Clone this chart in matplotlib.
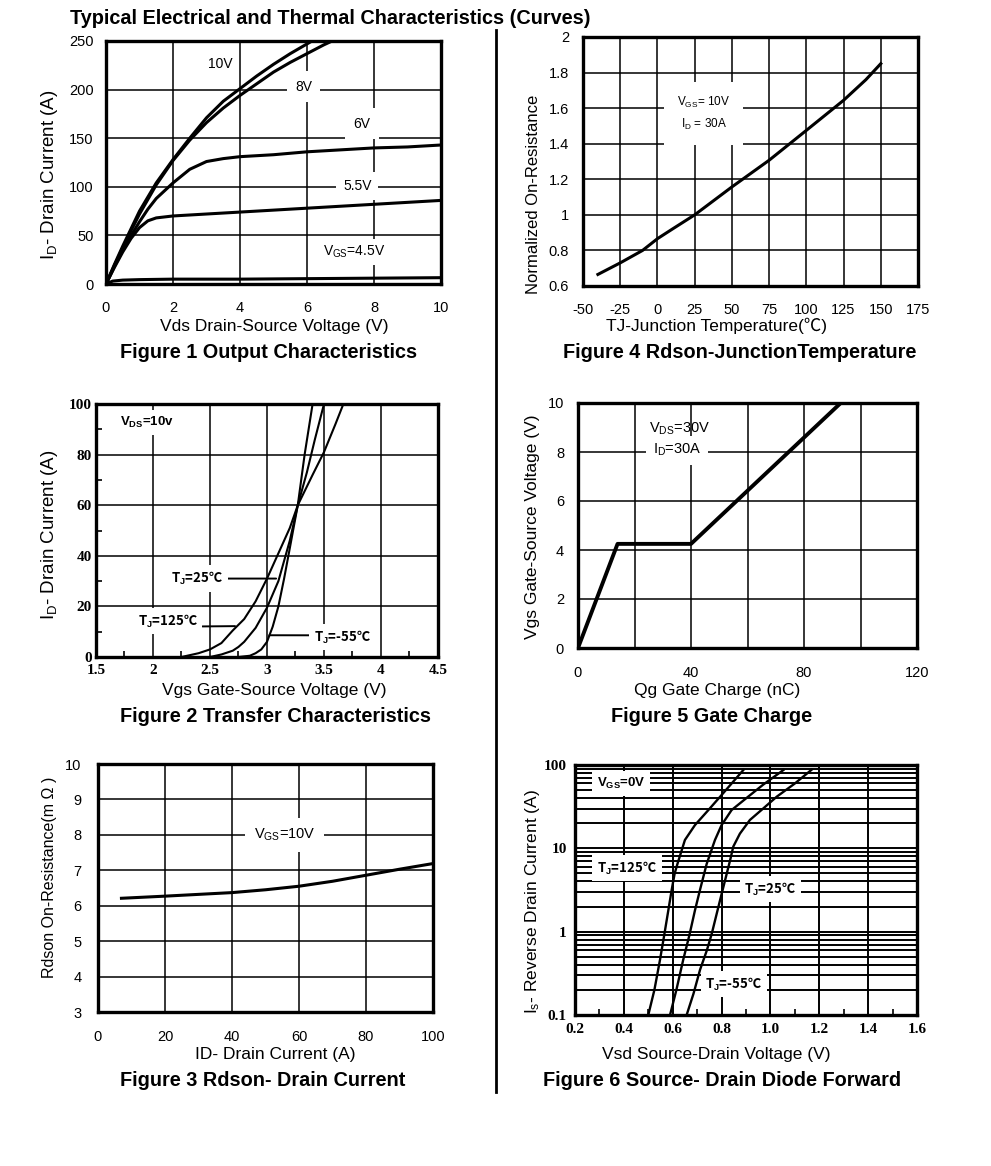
import matplotlib
matplotlib.use('Agg')
import matplotlib.pyplot as plt
from matplotlib.ticker import MultipleLocator, FixedLocator, NullFormatter

plt.rcParams['font.family'] = ['Liberation Sans', 'DejaVu Sans']
plt.rcParams['mathtext.fontset'] = 'custom'
plt.rcParams['mathtext.rm'] = 'Liberation Sans'
plt.rcParams['mathtext.bf'] = 'Liberation Sans:bold'
plt.rcParams['mathtext.it'] = 'Liberation Sans:italic'
plt.rcParams['axes.unicode_minus'] = False

W, H = 991, 1166

# ---- Figure 1: output characteristics (Vds, Id) ----
vds_10v = [0, 0.25, 0.5, 0.75, 1.0, 1.5, 2.0, 2.5, 3.0, 3.5, 4.0, 4.5, 5.0, 5.5, 6.0, 6.15]
id_10v = [0, 20, 39, 57, 75, 104, 128, 150, 171, 188, 201, 214, 226, 237, 247, 250]
vds_8v = [0, 0.25, 0.5, 0.75, 1.0, 1.5, 2.0, 2.5, 3.0, 3.5, 4.0, 4.5, 5.0, 5.5, 6.0, 6.5, 6.75]
id_8v = [0, 19, 37, 55, 72, 102, 127, 148, 166, 181, 194, 206, 218, 228, 237, 246, 250]
vds_6v = [0, 0.25, 0.5, 0.75, 1.0, 1.25, 1.5, 2.0, 2.5, 3.0, 3.5, 4, 5, 6, 7, 8, 9, 10]
id_6v = [0, 18, 35, 50, 64, 77, 88, 104, 118, 126, 129, 131, 133, 136, 138, 140, 141, 143]
vds_55v = [0, 0.25, 0.5, 0.75, 1.0, 1.25, 1.5, 2, 3, 4, 5, 6, 7, 8, 9, 10]
id_55v = [0, 17, 33, 47, 58, 65, 68, 70, 72, 74, 76, 78, 80, 82, 84, 86]
vds_45v = [0, 0.2, 0.5, 1, 2, 4, 6, 8, 10]
id_45v = [0, 3, 4, 4.5, 5, 5, 5.5, 6, 6.5]

# ---- Figure 2: transfer characteristics (Vgs, Id) ----
vgs_125 = [2.25, 2.4, 2.5, 2.6, 2.7, 2.8, 2.9, 3.0, 3.1, 3.2, 3.27, 3.4, 3.5, 3.6, 3.67]
id_125 = [0, 1.5, 3, 5.5, 10.5, 15, 22, 31, 41, 51, 60, 72, 81, 92, 100]
vgs_25 = [2.5, 2.6, 2.7, 2.75, 2.8, 2.9, 3.0, 3.1, 3.2, 3.27, 3.35, 3.42, 3.5]
id_25 = [0, 1, 2.5, 4, 6, 11.5, 19.5, 30, 46, 60, 73, 86, 100]
vgs_m55 = [2.75, 2.85, 2.9, 2.95, 3.0, 3.05, 3.1, 3.15, 3.2, 3.27, 3.33, 3.4]
id_m55 = [0, 0.5, 1.5, 3, 6, 12, 20, 31, 43, 60, 80, 100]

# ---- Figure 3: Rdson vs drain current ----
id_r = [7, 20, 30, 40, 50, 60, 70, 80, 90, 100]
rdson = [6.21, 6.27, 6.32, 6.37, 6.45, 6.55, 6.69, 6.86, 7.03, 7.19]

# ---- Figure 4: normalized Rdson vs Tj ----
tj = [-40, -25, -10, 0, 10, 25, 50, 75, 100, 125, 140, 150]
rnorm = [0.665, 0.73, 0.80, 0.866, 0.92, 1.0, 1.157, 1.307, 1.475, 1.644, 1.76, 1.85]

# ---- Figure 5: gate charge ----
qg = [0, 14, 40, 93]
vgs_q = [0, 4.25, 4.25, 10]

# ---- Figure 6: body diode forward (Vsd, Is) ----
vsd_125 = [0.50, 0.525, 0.548, 0.565, 0.582, 0.596, 0.608, 0.62, 0.65, 0.691, 0.746, 0.80, 0.889]
is_125 = [0.1, 0.2, 0.46, 0.9, 1.8, 3.2, 5, 6.6, 12.6, 19, 28.8, 43.6, 87]
vsd_25 = [0.589, 0.615, 0.643, 0.668, 0.691, 0.712, 0.739, 0.773, 0.80, 0.841, 0.909, 0.97, 1.053]
is_25 = [0.1, 0.2, 0.46, 0.9, 1.8, 3.2, 6.5, 12.6, 19, 28.8, 41.7, 58, 87]
vsd_m55 = [0.657, 0.685, 0.712, 0.74, 0.76, 0.794, 0.835, 0.848, 0.875, 0.916, 0.97, 1.026, 1.10, 1.169]
is_m55 = [0.1, 0.18, 0.35, 0.6, 0.95, 2.4, 7.2, 10.5, 15, 21.9, 30, 41.7, 60, 88]


def rect(l, t, r, b):
    return [l / W, 1 - b / H, (r - l) / W, (b - t) / H]


def ftext(x, y, s, **kw):
    fig.text(x / W, 1 - y / H, s, **kw)


def frame(ax, grid_lw=1.1):
    for sp in ax.spines.values():
        sp.set_linewidth(2.4)
    ax.set_axisbelow(True)
    ax.grid(True, which='both', color='black', lw=grid_lw)
    ax.tick_params(which='both', length=0, labelsize=10.5, colors='black')


wbox = dict(boxstyle='square,pad=0.35', fc='white', ec='none')
serif_bold = dict(family='Liberation Serif', weight='bold', size=11)
# labels with the degree-celsius sign need a font that has it
tj_font = dict(family='Noto Sans CJK SC', fontweight='bold', fontsize=9.5)

fig = plt.figure(figsize=(W / 100, H / 100), dpi=100)

ftext(70, 18, 'Typical Electrical and Thermal Characteristics (Curves)',
      fontsize=14.3, fontweight='bold', va='center', ha='left')
fig.add_artist(plt.Line2D([496 / W, 496 / W], [1 - 30 / H, 1 - 1092 / H], color='black', lw=2))

# ---------------- Figure 1 ----------------
ax1 = fig.add_axes(rect(106, 41, 441, 284))
frame(ax1)
ax1.set_xlim(0, 10)
ax1.set_ylim(0, 250)
ax1.xaxis.set_major_locator(MultipleLocator(2))
ax1.yaxis.set_major_locator(MultipleLocator(50))
ax1.tick_params(axis='x', pad=12)
ax1.tick_params(axis='y', pad=9)
for x, y in [(vds_10v, id_10v), (vds_8v, id_8v), (vds_6v, id_6v), (vds_55v, id_55v), (vds_45v, id_45v)]:
    ax1.plot(x, y, color='black', lw=2.2, zorder=5, solid_capstyle='butt')
ax1.text(3.4, 226, '10V', fontsize=10, ha='center', va='center')
ax1.text(5.9, 203, '8V', fontsize=10, ha='center', va='center', bbox=dict(boxstyle='square,pad=0.6', fc='white', ec='none'))
ax1.text(7.64, 165, '6V', fontsize=10, ha='center', va='center', bbox=dict(boxstyle='square,pad=0.6', fc='white', ec='none'))
ax1.text(7.5, 100.5, '5.5V', fontsize=10, ha='center', va='center', bbox=dict(boxstyle='square,pad=0.5', fc='white', ec='none'))
ax1.text(7.4, 33, r'V$_{\mathrm{GS}}$=4.5V', fontsize=10, ha='center', va='center', bbox=wbox)
ftext(274, 326, 'Vds Drain-Source Voltage (V)', fontsize=12.5, ha='center', va='center')
ftext(50, 175, r'I$_{\mathrm{D}}$- Drain Current (A)', fontsize=13.5, ha='center', va='center', rotation=90)
ftext(269, 353, 'Figure 1 Output Characteristics', fontsize=14.3, fontweight='bold', ha='center', va='center')

# ---------------- Figure 4 ----------------
ax4 = fig.add_axes(rect(583, 37, 918, 286))
frame(ax4)
ax4.set_xlim(-50, 175)
ax4.set_ylim(0.6, 2.0)
ax4.xaxis.set_major_locator(MultipleLocator(25))
ax4.yaxis.set_major_locator(MultipleLocator(0.2))
ax4.yaxis.set_major_formatter(plt.FuncFormatter(lambda v, p: '%g' % round(v, 1)))
ax4.tick_params(axis='x', pad=12)
ax4.tick_params(axis='y', pad=10)
ax4.plot(tj, rnorm, color='black', lw=2.2, zorder=5)
ax4.text(31, 1.57, 'V$_{\\mathrm{GS}}$= 10V\nI$_{\\mathrm{D}}$ = 30A', fontsize=8.5, ha='center', va='center',
         linespacing=1.6, bbox=dict(boxstyle='square,pad=1.1', fc='white', ec='none'))
ftext(717, 326, 'TJ-Junction Temperature(℃)', fontsize=12.5, ha='center', va='center',
      family=['Liberation Sans', 'Noto Sans CJK SC'])
ftext(533, 194, 'Normalized On-Resistance', fontsize=12, ha='center', va='center', rotation=90)
ftext(740, 353, 'Figure 4 Rdson-JunctionTemperature', fontsize=14.3, fontweight='bold', ha='center', va='center')

# ---------------- Figure 2 ----------------
ax2 = fig.add_axes(rect(96, 404, 438, 657))
frame(ax2)
ax2.set_xlim(1.5, 4.5)
ax2.set_ylim(0, 100)
ax2.xaxis.set_major_locator(MultipleLocator(0.5))
ax2.yaxis.set_major_locator(MultipleLocator(20))
ax2.xaxis.set_minor_locator(MultipleLocator(0.25))
ax2.yaxis.set_minor_locator(MultipleLocator(10))
ax2.grid(False, which='minor')
ax2.tick_params(which='minor', direction='in', length=4, width=1.2)
ax2.tick_params(axis='x', pad=5)
ax2.tick_params(axis='y', pad=3)
ax2.xaxis.set_major_formatter(plt.FuncFormatter(lambda v, p: '%g' % v))
for lab in ax2.get_xticklabels() + ax2.get_yticklabels():
    lab.set(**serif_bold)
for x, y in [(vgs_125, id_125), (vgs_25, id_25), (vgs_m55, id_m55)]:
    ax2.plot(x, y, color='black', lw=1.5, zorder=5)
ax2.text(1.95, 92.7, r'V$_{\mathbf{DS}}$=10v', fontsize=9.5, fontweight='bold', ha='center', va='center', bbox=wbox)
leader = dict(arrowstyle='-', lw=1.4, color='black', shrinkA=0, shrinkB=0)
ax2.annotate(r'T$_{\mathbf{J}}$=25℃', xy=(3.08, 31), xytext=(2.39, 31), ha='center', va='center',
             bbox=wbox, arrowprops=dict(leader, relpos=(1, 0.5)), zorder=4, **tj_font)
ax2.annotate(r'T$_{\mathbf{J}}$=125℃', xy=(2.72, 12.2), xytext=(2.13, 14.1), ha='center', va='center',
             bbox=wbox, arrowprops=dict(leader, relpos=(1, 0.2)), zorder=4, **tj_font)
ax2.annotate(r'T$_{\mathbf{J}}$=-55℃', xy=(3.02, 8.6), xytext=(3.66, 7.9), ha='center', va='center',
             bbox=wbox, arrowprops=dict(leader, relpos=(0, 0.6)), zorder=4, **tj_font)
ftext(274, 690, 'Vgs Gate-Source Voltage (V)', fontsize=12.5, ha='center', va='center')
ftext(50, 535, r'I$_{\mathrm{D}}$- Drain Current (A)', fontsize=13.5, ha='center', va='center', rotation=90)
ftext(275, 717, 'Figure 2 Transfer Characteristics', fontsize=14.3, fontweight='bold', ha='center', va='center')

# ---------------- Figure 5 ----------------
ax5 = fig.add_axes(rect(578, 403, 917, 648))
frame(ax5)
ax5.set_xlim(0, 120)
ax5.set_ylim(0, 10)
ax5.xaxis.set_major_locator(MultipleLocator(40))
ax5.xaxis.set_minor_locator(FixedLocator([20, 60, 100]))
ax5.yaxis.set_major_locator(MultipleLocator(2))
ax5.tick_params(axis='x', pad=13)
ax5.tick_params(axis='y', pad=10)
ax5.plot(qg, vgs_q, color='black', lw=2.8, zorder=5)
ax5.text(36, 8.94, r'V$_{\mathrm{DS}}$=30V', fontsize=10.5, ha='center', va='center')
ax5.text(35, 8.07, r'I$_{\mathrm{D}}$=30A', fontsize=10.5, ha='center', va='center',
         bbox=dict(boxstyle='square,pad=0.45', fc='white', ec='none'))
ftext(717, 690, 'Qg Gate Charge (nC)', fontsize=12.5, ha='center', va='center')
ftext(532, 527, 'Vgs Gate-Source Voltage (V)', fontsize=12.5, ha='center', va='center', rotation=90)
ftext(712, 717, 'Figure 5 Gate Charge', fontsize=14.3, fontweight='bold', ha='center', va='center')

# ---------------- Figure 3 ----------------
ax3 = fig.add_axes(rect(98, 764, 433, 1012))
frame(ax3)
ax3.set_xlim(0, 100)
ax3.set_ylim(3, 10)
ax3.xaxis.set_major_locator(MultipleLocator(20))
ax3.yaxis.set_major_locator(MultipleLocator(1))
ax3.tick_params(axis='x', pad=13)
ax3.tick_params(axis='y', pad=12)
ax3.plot(id_r, rdson, color='black', lw=2.2, zorder=5)
ax3.text(55.7, 8.0, r'V$_{\mathrm{GS}}$=10V', fontsize=10.5, ha='center', va='center',
         bbox=dict(boxstyle='square,pad=0.6', fc='white', ec='none'))
ftext(275, 1054, 'ID- Drain Current (A)', fontsize=12.5, ha='center', va='center')
ftext(50, 877, 'Rdson On-Resistance(m Ω )', fontsize=11.5, ha='center', va='center', rotation=90)
ftext(263, 1081, 'Figure 3 Rdson- Drain Current', fontsize=14.3, fontweight='bold', ha='center', va='center')

# ---------------- Figure 6 ----------------
ax6 = fig.add_axes(rect(575, 765, 917, 1015))
ax6.set_yscale('log')
frame(ax6, grid_lw=1.4)
ax6.grid(False, which='minor', axis='x')
ax6.set_xlim(0.2, 1.6)
ax6.set_ylim(0.1, 100)
ax6.xaxis.set_major_locator(MultipleLocator(0.2))
ax6.xaxis.set_minor_locator(MultipleLocator(0.1))
ax6.xaxis.set_major_formatter(plt.FuncFormatter(lambda v, p: '%.1f' % v))
ax6.set_yticks([0.1, 1, 10, 100])
ax6.set_yticklabels(['0.1', '1', '10', '100'])
ax6.yaxis.set_minor_formatter(NullFormatter())
ax6.tick_params(axis='x', which='minor', direction='in', length=4, width=1.2)
ax6.tick_params(axis='x', pad=6)
ax6.tick_params(axis='y', pad=6)
for lab in ax6.get_xticklabels() + ax6.get_yticklabels():
    lab.set(**serif_bold)
for x, y in [(vsd_125, is_125), (vsd_25, is_25), (vsd_m55, is_m55)]:
    ax6.plot(x, y, color='black', lw=1.7, zorder=5)
ax6.text(0.388, 60, r'V$_{\mathbf{GS}}$=0V', fontsize=9.5, fontweight='bold', ha='center', va='center', bbox=wbox)
ax6.text(0.413, 5.8, r'T$_{\mathbf{J}}$=125℃', ha='center', va='center', bbox=wbox, **tj_font)
ax6.text(1.0, 3.25, r'T$_{\mathbf{J}}$=25℃', ha='center', va='center', bbox=wbox, **tj_font)
ax6.text(0.85, 0.235, r'T$_{\mathbf{J}}$=-55℃', ha='center', va='center', bbox=wbox, **tj_font)
ftext(716, 1054, 'Vsd Source-Drain Voltage (V)', fontsize=12.5, ha='center', va='center')
ftext(532, 902, r'I$_{\mathrm{s}}$- Reverse Drain Current (A)', fontsize=12.5, ha='center', va='center', rotation=90)
ftext(722, 1081, 'Figure 6 Source- Drain Diode Forward', fontsize=14.3, fontweight='bold', ha='center', va='center')

fig.savefig('out.png', dpi=100)
